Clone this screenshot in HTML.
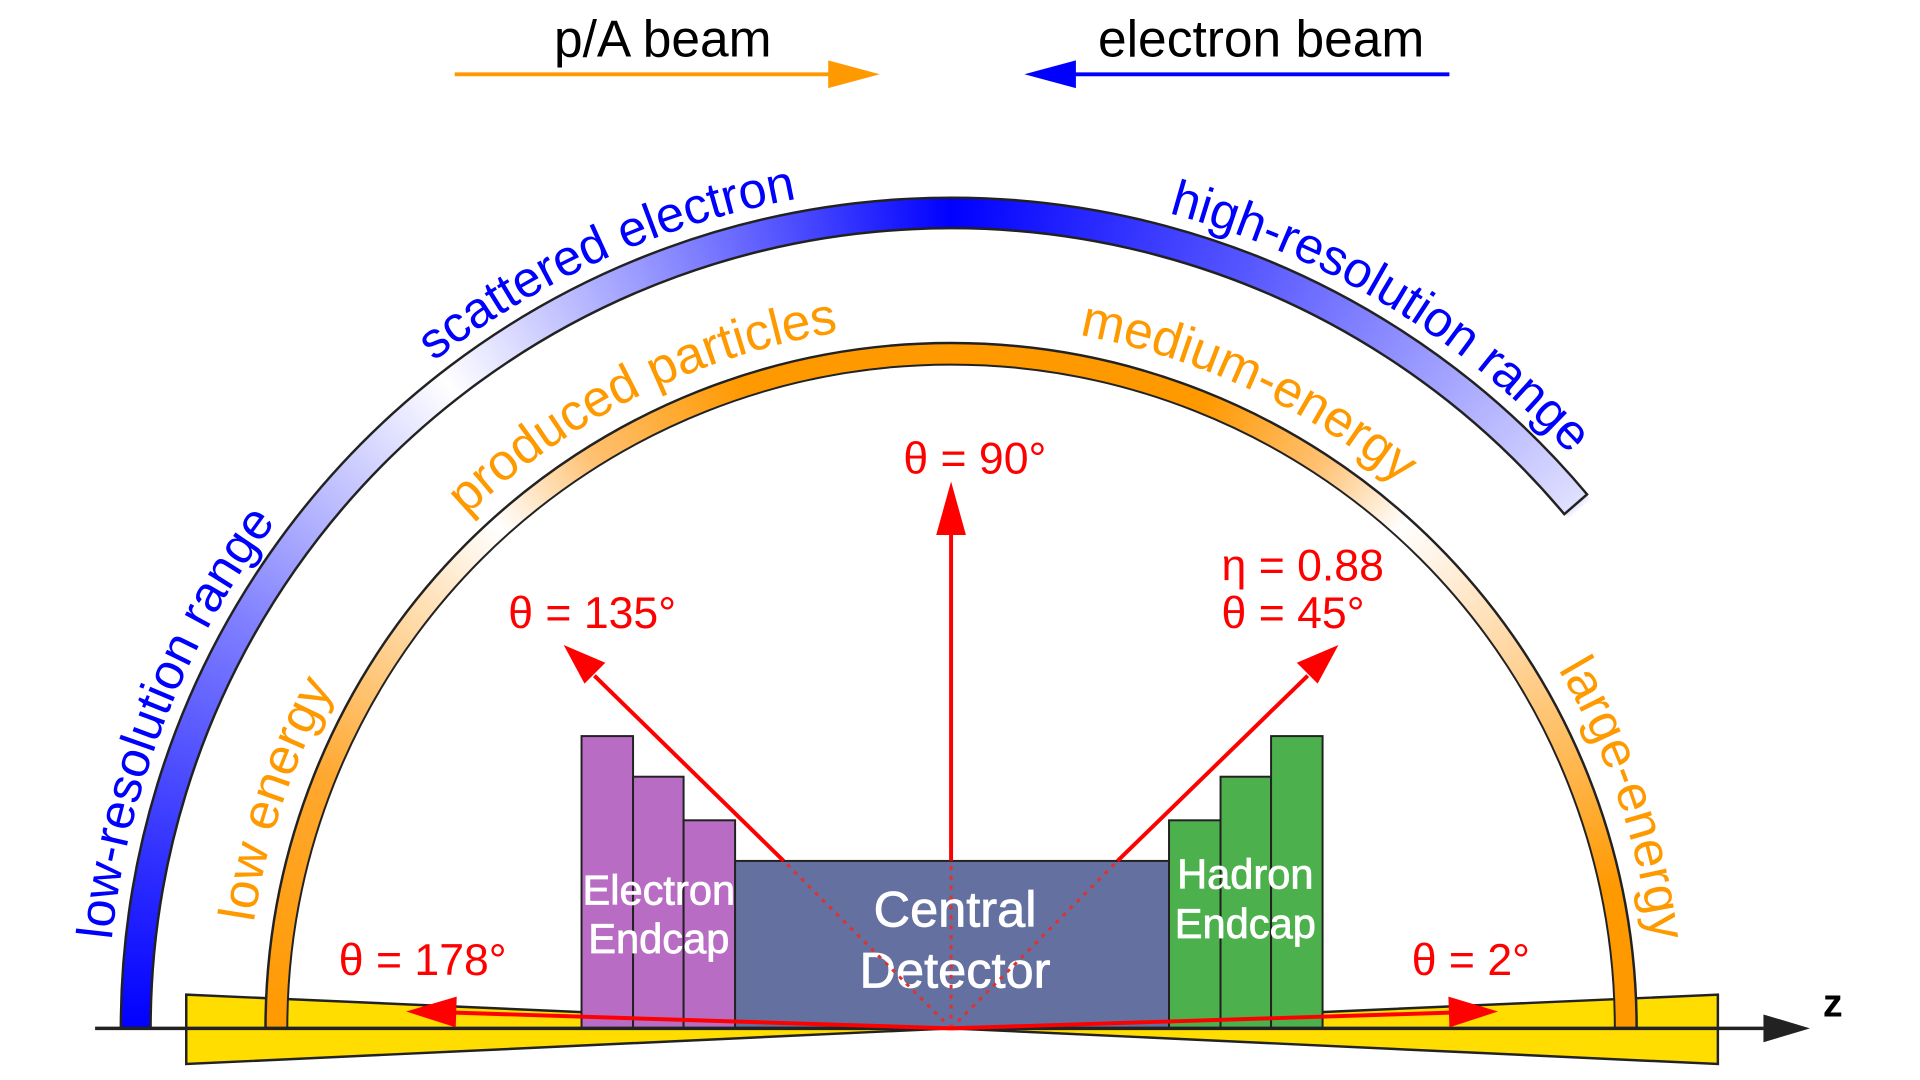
<!DOCTYPE html>
<html><head><meta charset="utf-8"><style>
html,body{margin:0;padding:0;background:#fff;}
#wrap{position:relative;width:1920px;height:1080px;overflow:hidden;background:#fff;font-family:"Liberation Sans",sans-serif;}
#s{position:absolute;left:0;top:0;width:1920px;height:1080px;transform:scale(0.9907);transform-origin:0 0;}
.layer{position:absolute;left:0;top:0;}
#blue{width:1920px;height:1038px;
background:conic-gradient(from 0deg at 960px 1038px,#0000ff 0deg,#5a5aff 22deg,#e0e0ff 50deg,transparent 50.5deg,transparent 269deg,#0000ff 270deg,#3030ff 282deg,#8080ff 300deg,#ffffff 322deg,#7d7dff 342deg,#0000ff 360deg);
-webkit-mask-image:radial-gradient(circle at 960px 1038px,transparent 808px,#000 808.5px,#000 837.5px,transparent 838px);
mask-image:radial-gradient(circle at 960px 1038px,transparent 808px,#000 808.5px,#000 837.5px,transparent 838px);}
#orange{width:1920px;height:1038px;
background:conic-gradient(from 0deg at 960px 1038px,#ff9900 0deg,#ff9900 22deg,#ffc070 33deg,#ffffff 42deg,#ffd9a8 55deg,#ff9900 78deg,#ff9900 270deg,#ffa830 292deg,#ffffff 318deg,#ffc070 328deg,#ff9900 342deg,#ff9900 360deg);
-webkit-mask-image:radial-gradient(circle at 960px 1038px,transparent 670px,#000 670.5px,#000 691.5px,transparent 692px);
mask-image:radial-gradient(circle at 960px 1038px,transparent 670px,#000 670.5px,#000 691.5px,transparent 692px);}
</style></head><body><div id="wrap"><div id="s">
<svg class="layer" width="1920" height="1080">
<polygon points="188,1004 960,1038 1734,1004 1734,1074 960,1038 188,1074" fill="#ffdd00" stroke="#222" stroke-width="2.5" stroke-linejoin="miter"/>
</svg>
<div id="blue" class="layer"></div>
<div id="orange" class="layer"></div>
<svg class="layer" width="1920" height="1080" font-family="Liberation Sans, sans-serif">
<defs>
<path id="pb" d="M 108 1038 A 852 852 0 0 1 1812 1038"/>
<path id="po" d="M 248 1038 A 712 712 0 0 1 1672 1038"/>
</defs>
<path d="M 122 1038 A 838 838 0 0 1 1602 499 L 1579 519 A 808 808 0 0 0 152 1038" fill="none" stroke="#222" stroke-width="2.5"/>
<path d="M 268 1038 A 692 692 0 0 1 1652 1038" fill="none" stroke="#222" stroke-width="2.5"/>
<path d="M 290 1038 A 670 670 0 0 1 1630 1038" fill="none" stroke="#222" stroke-width="2"/>
<g stroke="#222" stroke-width="2">
<rect x="587" y="743" width="52" height="295" fill="#b86cc4"/>
<rect x="639" y="784" width="51" height="254" fill="#b86cc4"/>
<rect x="690" y="828" width="52" height="210" fill="#b86cc4"/>
<rect x="742" y="869" width="438" height="169" fill="#6471a0"/>
<rect x="1180" y="828" width="52" height="210" fill="#4cb04c"/>
<rect x="1232" y="784" width="51" height="254" fill="#4cb04c"/>
<rect x="1283" y="743" width="52" height="295" fill="#4cb04c"/>
</g>
<g fill="#fff" stroke="#fff" stroke-width="0.8" text-anchor="middle">
<text x="665" y="913" font-size="42">Electron</text>
<text x="665" y="962" font-size="42">Endcap</text>
<text x="1257" y="897" font-size="42">Hadron</text>
<text x="1257" y="947" font-size="42">Endcap</text>
<text x="964" y="935" font-size="51">Central</text>
<text x="964" y="997" font-size="51">Detector</text>
</g>
<line x1="96" y1="1038" x2="1780" y2="1038" stroke="#222" stroke-width="3.5"/>
<polygon points="1780,1024 1827,1038 1780,1052" fill="#222"/>
<text x="1850" y="1026" font-size="40" font-weight="bold" text-anchor="middle">z</text>
<g stroke="#e03030" stroke-width="3" stroke-dasharray="4 6">
<line x1="960" y1="1038" x2="791" y2="869"/>
<line x1="960" y1="1038" x2="1128" y2="869"/>
<line x1="960" y1="1038" x2="960" y2="869"/>
</g>
<g stroke="#ff0000" stroke-width="4" fill="none">
<line x1="960" y1="869" x2="960" y2="530"/>
<line x1="791" y1="869" x2="600" y2="682"/>
<line x1="1128" y1="869" x2="1320" y2="682"/>
<line x1="960" y1="1038" x2="455" y2="1022"/>
<line x1="960" y1="1038" x2="1468" y2="1022"/>
</g>
<g fill="#ff0000">
<polygon points="960,486 975,540 945,540"/>
<polygon points="569,651 611,669 590,690"/>
<polygon points="1351,651 1330,690 1309,669"/>
<polygon points="410,1021 461,1006 460,1037"/>
<polygon points="1512,1021 1463,1037 1462,1006"/>
</g>
<g fill="#ff0000" font-size="45">
<text x="984" y="478" text-anchor="middle">θ = 90°</text>
<text x="513" y="634">θ = 135°</text>
<text x="1233" y="586">η = 0.88</text>
<text x="1233" y="634">θ = 45°</text>
<text x="342" y="984">θ = 178°</text>
<text x="1425" y="984">θ = 2°</text>
</g>
<text x="669" y="57" font-size="52" text-anchor="middle" fill="#000">p/A beam</text>
<line x1="459" y1="75" x2="845" y2="75" stroke="#ff9900" stroke-width="4"/>
<polygon points="888,75 836,61 836,89" fill="#ff9900"/>
<text x="1273" y="57" font-size="52" text-anchor="middle" fill="#000">electron beam</text>
<line x1="1463" y1="75" x2="1078" y2="75" stroke="#0000ff" stroke-width="4"/>
<polygon points="1034,75 1086,61 1086,89" fill="#0000ff"/>
<g fill="#0000ff" font-size="51">
<text><textPath href="#pb" startOffset="89">low-resolution range</textPath></text>
<text><textPath href="#pb" startOffset="776">scattered electron</textPath></text>
<text><textPath href="#pb" startOffset="1560">high-resolution range</textPath></text>
</g>
<g fill="#ff9900" font-size="52">
<text><textPath href="#po" startOffset="107">low energy</textPath></text>
<text><textPath href="#po" startOffset="579">produced particles</textPath></text>
<text><textPath href="#po" startOffset="1248">medium-energy</textPath></text>
<text><textPath href="#po" startOffset="1856">large-energy</textPath></text>
</g>
</svg>
</div></div></body></html>
